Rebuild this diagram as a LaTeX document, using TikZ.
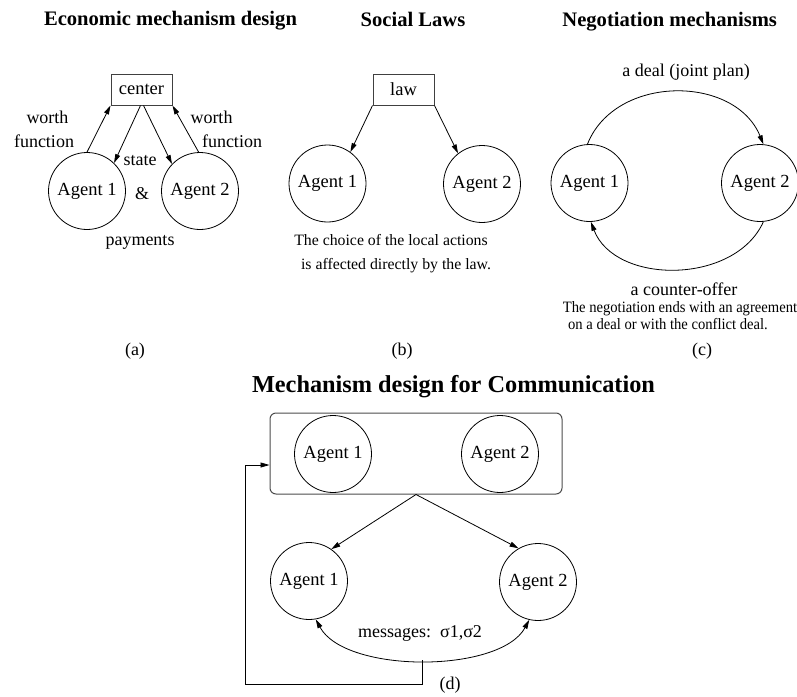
\documentclass[tikz,border=0pt]{standalone}
\usepackage{fontspec}
\usepackage{graphicx}
\setmainfont{Liberation Serif}
\usetikzlibrary{arrows.meta,calc}
\begin{document}
\begin{tikzpicture}[x=1pt,y=-1pt,
  agent/.style={draw,circle,minimum size=77pt,inner sep=0pt,line width=0.8pt,font=\fontsize{18.5}{20}\selectfont},
  boxnode/.style={draw=black!75,line width=1pt,minimum width=61pt,minimum height=31pt,inner sep=0pt,font=\fontsize{18.5}{20}\selectfont},
  lbl/.style={anchor=base,inner sep=0pt,font=\fontsize{18}{20}\selectfont},
  small/.style={anchor=base,inner sep=0pt,font=\fontsize{15.8}{17}\selectfont},
  ttl/.style={anchor=base,inner sep=0pt,font=\fontsize{20.6}{24}\selectfont\bfseries},
  bigttl/.style={anchor=base,inner sep=0pt,font=\fontsize{24.3}{28}\selectfont\bfseries},
  arr/.style={-{Triangle[length=9pt,width=5pt]},line width=0.8pt},
  arrtwo/.style={{Triangle[length=9pt,width=5pt]}-{Triangle[length=9pt,width=5pt]},line width=0.8pt},
]
\useasboundingbox (0,0) rectangle (797,696);

% ---------- (a) ----------
\node[ttl] (ta) at (170.5,25.7) {Economic mechanism design};
\node[boxnode] (ctr) at (141.5,89.5) {center};
\node[agent] (a1) at (87,191) {Agent 1};
\node[agent] (a2) at (200,191) {Agent 2};
\draw[arr] (a1.90) -- (ctr.south west);
\draw[arr] ([xshift=-1pt]ctr.south) -- (a1.46);
\draw[arr] ([xshift=2pt]ctr.south) -- (a2.136);
\draw[arr] (a2.92) -- (ctr.south east);
\node[lbl] (w1) at (47.5,123.3) {worth};
\node[lbl] (f1) at (44,147.7) {function};
\node[lbl] (w2) at (211.5,123.3) {worth};
\node[lbl] (f2) at (232,147.7) {function};
\node[lbl] (st) at (140,165.7) {state};
\node[lbl] (amp) at (142,199.5) {\&};
\node[lbl] (pay) at (140,245.7) {payments};
\node[lbl] (la) at (135,355.7) {(a)};

% ---------- (b) ----------
\node[ttl] (tb) at (413,26) {Social Laws};
\node[boxnode] (law) at (403.5,89.5) {law};
\node[agent] (b1) at (327.5,183.5) {Agent 1};
\node[agent] (b2) at (482,184) {Agent 2};
\draw[arr] (law.south west) -- (b1.54);
\draw[arr] (law.south east) -- (b2.128);
\node[small] (sb1) at (391,245.5) {The choice of the local actions};
\node[small] (sb2) at (396,269.5) {is affected directly by the law.};
\node[lbl] (lb) at (402,355.7) {(b)};

% ---------- (c) ----------
\node[ttl] (tc) at (669.7,26) {Negotiation mechanisms};
\node[lbl] (deal) at (686,76) {a deal (joint plan)};
\node[agent] (c1) at (589.5,183) {Agent 1};
\node[agent] (c2) at (760,183) {Agent 2};
\draw[arr] (c1.93) .. controls (615,74.4) and (735,74.4) .. (c2.85);
\draw[arr] (c2.-85) .. controls (735,285) and (615,285) .. (c1.-88);
\node[lbl] (co) at (684,295) {a counter-offer};
\node[small] (sc1) at (680,312.7) {\scalebox{0.925}[1]{The negotiation ends with an agreement}};
\node[small] (sc2) at (668,329) {\scalebox{0.925}[1]{on a deal or with the conflict deal.}};
\node[lbl] (lc) at (702,355.7) {(c)};

% ---------- (d) ----------
\node[bigttl] (td) at (453.5,392.3) {Mechanism design for Communication};
\node[draw=black!70,line width=1pt,rounded corners=6pt,minimum width=292pt,minimum height=81pt,inner sep=0pt] (grp) at (416,453.5) {};
\node[agent] (u1) at (333,454) {Agent 1};
\node[agent] (u2) at (500,454) {Agent 2};
\node[agent] (d1) at (309,581) {Agent 1};
\node[agent] (d2) at (538,582) {Agent 2};
\draw[arr] (grp.south) -- (d1.55);
\draw[arr] (grp.south) -- (d2.120);
\draw[arrtwo] (d1.-80) .. controls (345,673.6) and (500,673.6) .. (d2.-103) coordinate[pos=0.5] (mid);
\node[lbl] (msg) at (420,637) {messages:\ \ σ1,σ2};
\coordinate (fb) at (245,684);
\draw[arr] (mid) |- (fb) |- ([yshift=-11.5pt]grp.west);
\node[lbl] (ld) at (450,689.7) {(d)};
\end{tikzpicture}
\end{document}
